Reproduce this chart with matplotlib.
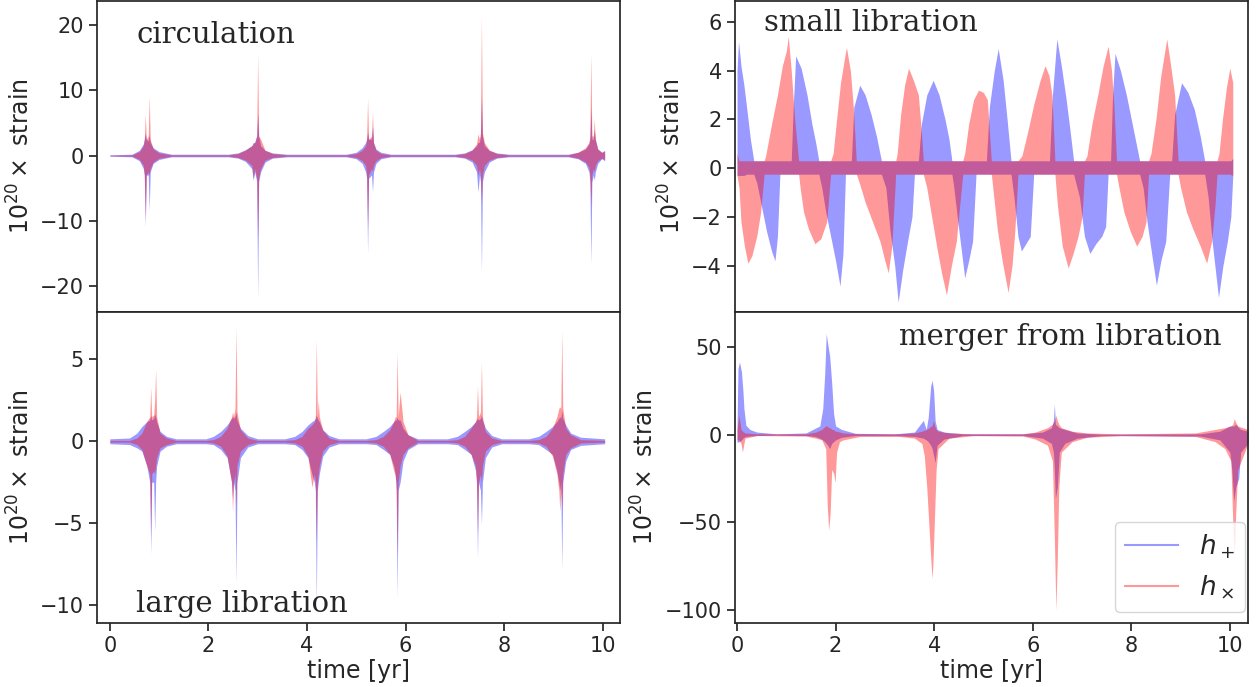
import matplotlib
matplotlib.use("Agg")
import matplotlib.pyplot as plt
from matplotlib.lines import Line2D

# envelopes of the strain (x 1e20), time in yr
# ---- circulation (top left), shared time axis for both polarisations
circ_t = [0.00, 0.45, 0.60, 0.68, 0.70, 0.72, 0.74, 0.78, 0.80, 0.82, 0.88, 1.00, 1.25,
          2.40, 2.60, 2.75, 2.88, 2.91, 2.94, 2.98, 3.00, 3.02, 3.06, 3.15, 3.30, 3.60,
          4.80, 5.00, 5.12, 5.19, 5.21, 5.23, 5.25, 5.31, 5.33, 5.35, 5.40, 5.50, 5.70,
          7.00, 7.20, 7.35, 7.44, 7.47, 7.50, 7.52, 7.54, 7.56, 7.60, 7.70, 7.85, 8.10,
          9.30, 9.50, 9.65, 9.72, 9.74, 9.76, 9.78, 9.81, 9.83, 9.85, 9.90, 9.98, 10.04]
circ_hp_hi = [0.1, 0.2, 0.8, 1.8, 2.5, 3.4, 2.5, 2.2, 3.2, 2.0, 1.2, 0.6, 0.2,
              0.2, 0.4, 0.9, 1.5, 2.0, 2.0, 3.0, 6.4, 3.0, 1.5, 0.8, 0.4, 0.2,
              0.2, 0.5, 1.2, 2.0, 2.5, 3.6, 2.5, 2.5, 4.5, 2.0, 1.0, 0.5, 0.2,
              0.2, 0.4, 0.9, 1.5, 2.0, 2.0, 3.0, 8.9, 3.0, 1.5, 0.8, 0.4, 0.2,
              0.2, 0.5, 1.0, 1.8, 2.5, 7.4, 2.5, 2.5, 4.0, 2.5, 1.0, 0.5, 0.8]
circ_hp_lo = [-0.1, -0.2, -0.8, -2.0, -3.0, -11.0, -3.0, -3.0, -8.5, -2.5, -1.2, -0.6, -0.2,
              -0.2, -0.4, -0.9, -2.0, -3.8, -2.5, -4.0, -21.9, -4.0, -2.5, -1.0, -0.4, -0.2,
              -0.2, -0.5, -1.2, -2.5, -3.5, -15.0, -3.5, -3.0, -5.6, -2.5, -1.2, -0.5, -0.2,
              -0.2, -0.4, -1.0, -2.5, -5.6, -3.0, -4.0, -17.9, -4.0, -2.5, -1.0, -0.4, -0.2,
              -0.2, -0.5, -1.2, -2.5, -4.0, -16.7, -4.0, -3.0, -3.8, -2.5, -1.2, -0.5, -0.8]
circ_hx_hi = [0.05, 0.1, 0.6, 1.5, 2.5, 6.3, 2.5, 3.0, 9.1, 2.5, 1.0, 0.4, 0.1,
              0.1, 0.3, 0.8, 1.5, 1.8, 2.0, 3.0, 15.6, 3.0, 2.5, 0.8, 0.3, 0.1,
              0.1, 0.3, 0.8, 1.5, 2.5, 8.8, 2.5, 3.0, 6.6, 2.0, 0.8, 0.3, 0.1,
              0.1, 0.3, 0.8, 1.8, 3.3, 2.5, 3.5, 21.4, 3.5, 2.0, 0.8, 0.3, 0.1,
              0.1, 0.5, 1.2, 2.0, 3.0, 15.6, 3.0, 3.0, 5.6, 2.5, 1.0, 0.5, 0.6]
circ_hx_lo = [-0.05, -0.1, -0.6, -1.5, -3.0, -9.7, -3.0, -2.5, -3.0, -2.0, -1.0, -0.4, -0.1,
              -0.1, -0.3, -0.7, -1.5, -3.5, -2.0, -3.5, -13.0, -3.5, -2.0, -0.7, -0.3, -0.1,
              -0.1, -0.3, -0.8, -1.5, -3.0, -11.2, -3.0, -2.0, -2.5, -1.5, -0.8, -0.3, -0.1,
              -0.1, -0.3, -0.7, -1.5, -3.0, -2.0, -3.0, -7.2, -3.0, -1.5, -0.7, -0.3, -0.1,
              -0.1, -0.4, -1.0, -1.8, -3.0, -7.9, -3.0, -2.0, -2.5, -1.5, -0.8, -0.4, -0.6]

# ---- large libration (bottom left)
lib_t = [0.00, 0.40, 0.55, 0.65, 0.75, 0.81, 0.83, 0.85, 0.89, 0.91, 0.93, 0.95, 1.02, 1.15, 1.35,
         1.95, 2.10, 2.25, 2.38, 2.47, 2.49, 2.51, 2.54, 2.56, 2.58, 2.65, 2.80, 3.00,
         3.55, 3.75, 3.90, 4.02, 4.10, 4.15, 4.17, 4.19, 4.21, 4.23, 4.25, 4.32, 4.45, 4.65,
         5.20, 5.40, 5.55, 5.68, 5.76, 5.79, 5.81, 5.83, 5.85, 5.89, 5.95, 6.05, 6.25,
         6.85, 7.05, 7.20, 7.33, 7.42, 7.44, 7.46, 7.48, 7.52, 7.54, 7.56, 7.62, 7.75, 7.95,
         8.50, 8.70, 8.85, 8.98, 9.07, 9.11, 9.13, 9.15, 9.17, 9.19, 9.25, 9.35, 9.55, 10.04]
lib_hp_hi = [0.15, 0.2, 0.5, 0.9, 1.2, 1.3, 1.6, 1.3, 1.4, 1.67, 1.5, 1.2, 0.6, 0.3, 0.15,
             0.15, 0.3, 0.6, 1.0, 1.4, 1.5, 1.4, 1.5, 1.77, 1.3, 0.8, 0.35, 0.15,
             0.15, 0.3, 0.6, 1.0, 1.2, 1.3, 1.4, 1.6, 1.4, 1.3, 1.2, 0.7, 0.35, 0.15,
             0.15, 0.3, 0.6, 0.9, 1.2, 1.3, 1.3, 1.46, 1.3, 1.3, 0.8, 0.4, 0.15,
             0.15, 0.3, 0.6, 0.9, 1.2, 1.3, 1.4, 1.3, 1.4, 1.6, 1.3, 0.8, 0.35, 0.15,
             0.15, 0.3, 0.6, 0.9, 1.2, 1.4, 1.5, 1.4, 1.9, 1.4, 1.0, 0.5, 0.25, 0.15]
lib_hp_lo = [-0.15, -0.2, -0.4, -0.6, -1.5, -2.5, -6.9, -2.5, -2.5, -5.5, -2.5, -1.5, -0.6, -0.3, -0.15,
             -0.15, -0.2, -0.5, -1.0, -2.5, -3.5, -2.5, -3.0, -8.64, -2.5, -1.0, -0.35, -0.15,
             -0.15, -0.2, -0.5, -1.0, -2.0, -2.5, -3.0, -10.2, -3.0, -2.5, -2.0, -0.9, -0.35, -0.15,
             -0.15, -0.2, -0.5, -0.8, -1.5, -2.0, -3.0, -9.55, -3.0, -2.5, -1.2, -0.5, -0.15,
             -0.15, -0.2, -0.5, -0.8, -1.8, -2.5, -7.2, -2.5, -3.0, -5.1, -2.5, -1.0, -0.35, -0.15,
             -0.15, -0.2, -0.5, -0.8, -1.8, -2.5, -3.0, -2.5, -7.8, -2.5, -1.2, -0.5, -0.25, -0.15]
lib_hx_hi = [0.05, 0.05, 0.2, 0.5, 1.2, 1.5, 3.3, 1.5, 1.6, 2.5, 4.4, 1.5, 0.5, 0.2, 0.05,
             0.05, 0.1, 0.3, 0.8, 1.5, 1.8, 1.5, 2.0, 6.95, 1.8, 0.7, 0.2, 0.05,
             0.05, 0.1, 0.3, 0.8, 1.0, 1.2, 1.5, 6.24, 1.5, 2.5, 1.5, 0.7, 0.2, 0.05,
             0.05, 0.1, 0.3, 0.7, 1.2, 1.5, 1.5, 5.47, 1.5, 3.0, 1.2, 0.4, 0.05,
             0.05, 0.1, 0.3, 0.8, 1.2, 1.5, 3.4, 1.5, 1.8, 4.86, 1.5, 0.6, 0.2, 0.05,
             0.05, 0.1, 0.3, 0.8, 1.5, 2.0, 2.1, 2.0, 6.77, 2.0, 0.8, 0.4, 0.1, 0.05]
lib_hx_lo = [-0.05, -0.05, -0.2, -0.5, -1.5, -2.0, -5.85, -2.0, -1.8, -2.0, -1.5, -1.0, -0.4, -0.2, -0.05,
             -0.05, -0.1, -0.3, -0.9, -2.5, -4.33, -2.5, -2.0, -4.0, -1.5, -0.6, -0.2, -0.05,
             -0.05, -0.1, -0.3, -0.9, -2.8, -2.0, -2.5, -6.2, -2.5, -2.0, -1.5, -0.6, -0.2, -0.05,
             -0.05, -0.1, -0.3, -0.8, -1.8, -2.1, -2.5, -7.07, -2.5, -1.5, -0.8, -0.4, -0.05,
             -0.05, -0.1, -0.3, -0.8, -1.5, -2.5, -5.7, -2.5, -2.0, -2.5, -1.5, -0.6, -0.2, -0.05,
             -0.05, -0.1, -0.3, -0.9, -2.0, -3.0, -4.3, -3.0, -4.0, -2.0, -0.8, -0.4, -0.1, -0.05]

# ---- small libration (top right), one line per lobe
small_hp_t = [0.00, 0.03, 0.08, 0.14, 0.20, 0.27, 0.34,
              0.40, 0.50, 0.60, 0.70, 0.77, 0.82, 0.87,
              1.10, 1.14, 1.19, 1.30, 1.42, 1.52, 1.60, 1.66,
              1.72, 1.80, 1.90, 2.00, 2.09, 2.15, 2.20,
              2.32, 2.37, 2.49, 2.60, 2.72, 2.83, 2.93,
              3.02, 3.10, 3.20, 3.27, 3.36, 3.46, 3.55, 3.60,
              3.68, 3.74, 3.85, 3.98, 4.10, 4.22, 4.30, 4.36,
              4.40, 4.48, 4.56, 4.62, 4.70, 4.78, 4.85,
              5.06, 5.12, 5.22, 5.30, 5.40, 5.48, 5.56,
              5.62, 5.70, 5.77, 5.86, 5.95, 6.02,
              6.34, 6.40, 6.49, 6.58, 6.68, 6.76, 6.83,
              6.95, 7.05, 7.16, 7.28, 7.40, 7.48, 7.53,
              7.58, 7.62, 7.67, 7.78, 7.90, 8.02, 8.10, 8.17,
              8.24, 8.32, 8.42, 8.51, 8.60, 8.70, 8.78,
              8.82, 8.88, 9.02, 9.15, 9.28, 9.40, 9.49,
              9.56, 9.64, 9.77, 9.86, 9.95, 10.02, 10.06]
small_hp_hi = [4.0, 5.2, 4.2, 3.4, 2.4, 1.2, 0.3,
               0.3, 0.3, 0.3, 0.3, 0.3, 0.3, 0.3,
               0.3, 2.5, 4.6, 4.1, 3.0, 1.8, 1.0, 0.3,
               0.3, 0.3, 0.3, 0.3, 0.3, 0.3, 0.3,
               0.3, 2.5, 3.4, 3.0, 2.2, 1.3, 0.3,
               0.3, 0.3, 0.3, 0.3, 0.3, 0.3, 0.3, 0.3,
               0.3, 1.8, 3.0, 3.6, 3.0, 2.0, 1.2, 0.3,
               0.3, 0.3, 0.3, 0.3, 0.3, 0.3, 0.3,
               0.3, 2.5, 4.0, 4.9, 3.6, 2.0, 0.3,
               0.3, 0.3, 0.3, 0.3, 0.3, 0.3,
               0.3, 3.0, 5.3, 4.2, 2.8, 1.5, 0.3,
               0.3, 0.3, 0.3, 0.3, 0.3, 0.3, 0.3,
               0.3, 3.0, 4.7, 4.0, 3.0, 1.8, 1.0, 0.3,
               0.3, 0.3, 0.3, 0.3, 0.3, 0.3, 0.3,
               0.3, 2.2, 3.5, 3.1, 2.4, 1.3, 0.3,
               0.3, 0.3, 0.3, 0.3, 0.3, 0.3, 0.4]
small_hp_lo = [-0.3, -0.3, -0.3, -0.3, -0.25, -0.25, -0.25,
               -0.6, -1.6, -2.6, -3.4, -3.8, -2.8, -0.25,
               -0.25, -0.25, -0.25, -0.25, -0.25, -0.25, -0.25, -0.25,
               -0.8, -1.8, -2.8, -3.8, -4.84, -3.5, -0.25,
               -0.25, -0.25, -0.25, -0.25, -0.25, -0.25, -0.25,
               -0.8, -2.5, -4.0, -5.5, -4.2, -3.0, -2.0, -0.25,
               -0.25, -0.25, -0.25, -0.25, -0.25, -0.25, -0.25, -0.25,
               -0.8, -2.2, -3.5, -4.5, -3.8, -3.0, -0.25,
               -0.25, -0.25, -0.25, -0.25, -0.25, -0.25, -0.25,
               -1.2, -2.8, -3.4, -3.1, -2.8, -0.25,
               -0.25, -0.25, -0.25, -0.25, -0.25, -0.25, -0.25,
               -1.2, -2.8, -3.5, -3.1, -2.8, -2.4, -0.25,
               -0.25, -0.25, -0.25, -0.25, -0.25, -0.25, -0.25, -0.25,
               -0.8, -2.2, -3.6, -4.8, -3.8, -3.0, -0.25,
               -0.25, -0.25, -0.25, -0.25, -0.25, -0.25, -0.25,
               -1.2, -3.0, -5.3, -4.0, -3.0, -2.0, -0.3]
small_hx_t = [0.00, 0.04, 0.08, 0.15, 0.22, 0.30, 0.40, 0.48, 0.55,
              0.58, 0.70, 0.82, 0.92, 1.00, 1.04, 1.10, 1.17, 1.25,
              1.28, 1.35, 1.45, 1.58, 1.70, 1.82, 1.90,
              1.95, 2.02, 2.10, 2.18, 2.22, 2.30, 2.36, 2.42,
              2.48, 2.60, 2.75, 2.90, 3.00, 3.07, 3.14, 3.22,
              3.25, 3.32, 3.40, 3.48, 3.58, 3.68, 3.74, 3.78,
              3.85, 3.95, 4.05, 4.15, 4.25, 4.35, 4.45, 4.52, 4.58,
              4.62, 4.70, 4.80, 4.90, 5.00, 5.08, 5.16,
              5.20, 5.28, 5.38, 5.50, 5.58, 5.64, 5.70,
              5.78, 5.90, 6.02, 6.15, 6.25, 6.33, 6.39, 6.45,
              6.50, 6.60, 6.72, 6.82, 6.92, 7.00, 7.05,
              7.10, 7.20, 7.32, 7.43, 7.53, 7.60, 7.65, 7.70,
              7.75, 7.85, 7.98, 8.11, 8.22, 8.30, 8.35,
              8.40, 8.50, 8.60, 8.68, 8.72, 8.80, 8.88, 8.95,
              9.00, 9.12, 9.25, 9.40, 9.53, 9.63, 9.70, 9.74,
              9.78, 9.85, 9.93, 10.00, 10.06]
small_hx_hi = [0.6, 0.3, 0.3, 0.3, 0.3, 0.3, 0.3, 0.3, 0.3,
               0.5, 1.8, 3.0, 4.2, 4.8, 5.4, 4.0, 2.0, 0.3,
               0.3, 0.3, 0.3, 0.3, 0.3, 0.3, 0.3,
               0.6, 2.0, 3.5, 4.5, 4.95, 4.0, 2.5, 0.3,
               0.3, 0.3, 0.3, 0.3, 0.3, 0.3, 0.3, 0.3,
               0.6, 2.2, 3.4, 4.1, 3.6, 3.0, 1.5, 0.3,
               0.3, 0.3, 0.3, 0.3, 0.3, 0.3, 0.3, 0.3, 0.3,
               0.6, 1.8, 2.8, 3.2, 3.1, 2.8, 0.3,
               0.3, 0.3, 0.3, 0.3, 0.3, 0.3, 0.3,
               0.5, 1.5, 2.6, 3.6, 4.2, 3.8, 3.0, 0.3,
               0.3, 0.3, 0.3, 0.3, 0.3, 0.3, 0.3,
               0.5, 1.8, 3.0, 4.2, 5.0, 4.0, 2.5, 0.3,
               0.3, 0.3, 0.3, 0.3, 0.3, 0.3, 0.3,
               0.6, 2.0, 3.8, 4.8, 5.3, 4.2, 3.0, 0.3,
               0.3, 0.3, 0.3, 0.3, 0.3, 0.3, 0.3, 0.3,
               0.6, 2.0, 3.3, 4.1, 3.5]
small_hx_lo = [-0.3, -0.8, -2.2, -3.2, -3.9, -3.6, -2.8, -1.8, -0.25,
               -0.25, -0.25, -0.25, -0.25, -0.25, -0.25, -0.25, -0.25, -0.25,
               -0.8, -1.8, -2.5, -3.1, -2.9, -2.2, -0.25,
               -0.25, -0.25, -0.25, -0.25, -0.25, -0.25, -0.25, -0.25,
               -0.6, -1.4, -2.2, -3.0, -3.8, -4.3, -3.2, -0.25,
               -0.25, -0.25, -0.25, -0.25, -0.25, -0.25, -0.25, -0.25,
               -0.8, -2.0, -3.2, -4.3, -5.2, -4.0, -3.0, -1.5, -0.25,
               -0.25, -0.25, -0.25, -0.25, -0.25, -0.25, -0.25,
               -1.0, -2.5, -3.8, -5.1, -4.0, -2.5, -0.25,
               -0.25, -0.25, -0.25, -0.25, -0.25, -0.25, -0.25, -0.25,
               -1.5, -3.2, -4.1, -3.5, -2.8, -2.0, -0.25,
               -0.25, -0.25, -0.25, -0.25, -0.25, -0.25, -0.25, -0.25,
               -0.8, -1.8, -2.6, -3.2, -2.8, -2.2, -0.25,
               -0.25, -0.25, -0.25, -0.25, -0.25, -0.25, -0.25, -0.25,
               -0.8, -1.8, -2.5, -3.2, -3.9, -3.0, -1.5, -0.25,
               -0.25, -0.25, -0.25, -0.25, -0.3]

# ---- merger from libration (bottom right)
merge_hp_t = [0.00, 0.02, 0.05, 0.09, 0.12, 0.14, 0.18, 0.26, 0.40, 0.80,
              1.40, 1.58, 1.68, 1.74, 1.78, 1.81, 1.84, 1.88, 1.92, 1.96, 2.00, 2.12, 2.40,
              3.20, 3.60, 3.78, 3.84, 3.88, 3.93, 3.96, 3.99, 4.02, 4.06, 4.20, 4.60,
              5.80, 6.20, 6.38, 6.42, 6.44, 6.46, 6.50, 6.54, 6.65, 6.90, 7.40,
              9.40, 9.80, 10.00, 10.04, 10.08, 10.12, 10.18, 10.22, 10.37]
merge_hp_hi = [5.0, 38.0, 41.6, 36.0, 25.0, 15.0, 5.4, 3.0, 1.5, 0.5,
               1.0, 3.6, 5.0, 15.0, 35.0, 57.8, 52.0, 45.0, 30.0, 12.0, 5.0, 3.0, 0.8,
               0.5, 1.5, 8.2, 3.0, 10.0, 28.0, 31.1, 25.0, 8.0, 3.0, 1.5, 0.5,
               0.5, 1.5, 4.0, 8.0, 17.7, 6.0, 5.0, 4.0, 3.0, 1.0, 0.3,
               0.5, 2.0, 5.0, 5.0, 5.0, 6.0, 4.0, 3.0, 2.0]
merge_hp_lo = [-4.2, -4.2, -4.0, -3.0, -2.0, -1.5, -1.0, -0.8, -0.5, -0.3,
               -0.5, -1.0, -2.0, -3.0, -4.0, -5.0, -6.0, -8.0, -5.0, -4.0, -3.0, -1.5, -0.5,
               -0.5, -1.0, -2.0, -3.0, -4.0, -6.0, -8.0, -12.0, -16.0, -6.0, -2.5, -0.5,
               -0.5, -2.0, -5.0, -10.0, -20.0, -36.6, -30.0, -10.0, -5.0, -2.0, -0.5,
               -0.8, -3.0, -10.0, -20.0, -38.0, -30.0, -25.0, -10.0, -5.0]
merge_hx_t = [0.00, 0.04, 0.08, 0.11, 0.16, 0.40,
              1.40, 1.60, 1.72, 1.80, 1.83, 1.86, 1.89, 1.92, 1.96, 1.99, 2.02, 2.08, 2.15, 2.50,
              3.30, 3.60, 3.75, 3.80, 3.85, 3.90, 3.94, 3.96, 3.98, 4.01, 4.04, 4.08, 4.30, 4.80,
              5.80, 6.05, 6.30, 6.40, 6.44, 6.47, 6.50, 6.53, 6.58, 6.80, 7.10, 7.80,
              9.30, 9.70, 9.90, 10.02, 10.06, 10.09, 10.12, 10.16, 10.37]
merge_hx_hi = [3.0, 11.1, 3.0, 2.0, 1.0, 0.5,
               0.5, 1.5, 3.0, 5.0, 5.0, 4.0, 4.0, 3.0, 3.0, 2.0, 2.0, 1.5, 1.0, 0.5,
               0.5, 1.0, 2.0, 2.5, 3.0, 4.0, 5.0, 5.0, 8.2, 5.0, 3.0, 2.0, 1.0, 0.5,
               0.5, 1.5, 4.0, 6.0, 8.0, 11.1, 8.0, 6.0, 4.0, 2.0, 1.0, 0.5,
               1.0, 3.0, 4.0, 5.0, 6.0, 9.2, 7.0, 5.0, 3.0]
merge_hx_lo = [-3.0, -3.0, -5.0, -9.9, -2.0, -0.5,
               -0.8, -2.0, -3.0, -8.0, -40.0, -54.7, -45.0, -20.0, -22.0, -27.4, -10.0, -4.0, -3.0, -1.0,
               -1.0, -2.0, -5.0, -12.0, -30.0, -55.0, -75.0, -82.4, -70.0, -45.0, -20.0, -8.0, -2.0, -0.5,
               -0.8, -2.5, -6.0, -15.0, -60.0, -100.5, -70.0, -30.0, -10.0, -4.0, -1.5, -0.5,
               -1.0, -4.0, -8.0, -15.0, -50.0, -69.5, -45.0, -20.0, -5.0]

time_ticks = [0, 2, 4, 6, 8, 10]
ylabel = r'$10^{20}\times$ strain'
dark = '#262626'

plt.rcParams['font.family'] = ['DejaVu Sans']
plt.rcParams['axes.edgecolor'] = dark
plt.rcParams['axes.linewidth'] = 1.25
plt.rcParams['text.color'] = dark
plt.rcParams['axes.labelcolor'] = dark

fig = plt.figure(figsize=(12.58, 6.87), dpi=100)
ax_circ = fig.add_axes([0.0771, 0.5459, 0.4157, 0.4526])
ax_lib = fig.add_axes([0.0771, 0.0932, 0.4157, 0.4527])
ax_small = fig.add_axes([0.5843, 0.5459, 0.4078, 0.4526])
ax_merge = fig.add_axes([0.5843, 0.0932, 0.4078, 0.4527])


def draw(ax, tp, hp_hi, hp_lo, tx, hx_hi, hx_lo):
    ax.fill_between(tp, hp_lo, hp_hi, color='b', alpha=0.4, lw=0)
    ax.fill_between(tx, hx_lo, hx_hi, color='r', alpha=0.4, lw=0)
    ax.tick_params(direction='out', length=6, width=1.25, color=dark,
                   labelsize=15, labelcolor=dark, top=False, right=False)
    ax.set_ylabel(ylabel, fontsize=17)


draw(ax_circ, circ_t, circ_hp_hi, circ_hp_lo, circ_t, circ_hx_hi, circ_hx_lo)
draw(ax_lib, lib_t, lib_hp_hi, lib_hp_lo, lib_t, lib_hx_hi, lib_hx_lo)
draw(ax_small, small_hp_t, small_hp_hi, small_hp_lo, small_hx_t, small_hx_hi, small_hx_lo)
draw(ax_merge, merge_hp_t, merge_hp_hi, merge_hp_lo, merge_hx_t, merge_hx_hi, merge_hx_lo)

for ax in (ax_circ, ax_lib):
    ax.set_xlim(-0.26, 10.35)
for ax in (ax_small, ax_merge):
    ax.set_xlim(-0.04, 10.37)
for ax in (ax_circ, ax_small):
    ax.set_xticks(time_ticks)
    ax.tick_params(bottom=False, labelbottom=False)
for ax in (ax_lib, ax_merge):
    ax.set_xticks(time_ticks)
    ax.set_xlabel('time [yr]', fontsize=17, labelpad=2)

ax_circ.set_ylim(-24.0, 23.7)
ax_circ.set_yticks([-20, -10, 0, 10, 20])
ax_lib.set_ylim(-11.1, 7.9)
ax_lib.set_yticks([-10, -5, 0, 5])
ax_small.set_ylim(-5.9, 6.85)
ax_small.set_yticks([-4, -2, 0, 2, 4, 6])
ax_merge.set_ylim(-107.7, 70.2)
ax_merge.set_yticks([-100, -50, 0, 50])

serif = dict(family='DejaVu Serif', fontsize=21, color=dark)
ax_circ.text(0.075, 0.89, 'circulation', transform=ax_circ.transAxes, va='center', **serif)
ax_small.text(0.057, 0.93, 'small libration', transform=ax_small.transAxes, va='center', **serif)
ax_lib.text(0.075, 0.06, 'large libration', transform=ax_lib.transAxes, va='center', **serif)
ax_merge.text(0.949, 0.92, 'merger from libration', transform=ax_merge.transAxes,
              va='center', ha='right', **serif)

handles = [Line2D([], [], color='b', alpha=0.4, lw=1.5),
           Line2D([], [], color='r', alpha=0.4, lw=1.5)]
ax_merge.legend(handles, [r'$h_+$', r'$h_\times$'], loc='lower right',
                bbox_to_anchor=(0.995, 0.035), borderaxespad=0, fontsize=19,
                handlelength=2.0)

fig.savefig('out.png', dpi=100)
